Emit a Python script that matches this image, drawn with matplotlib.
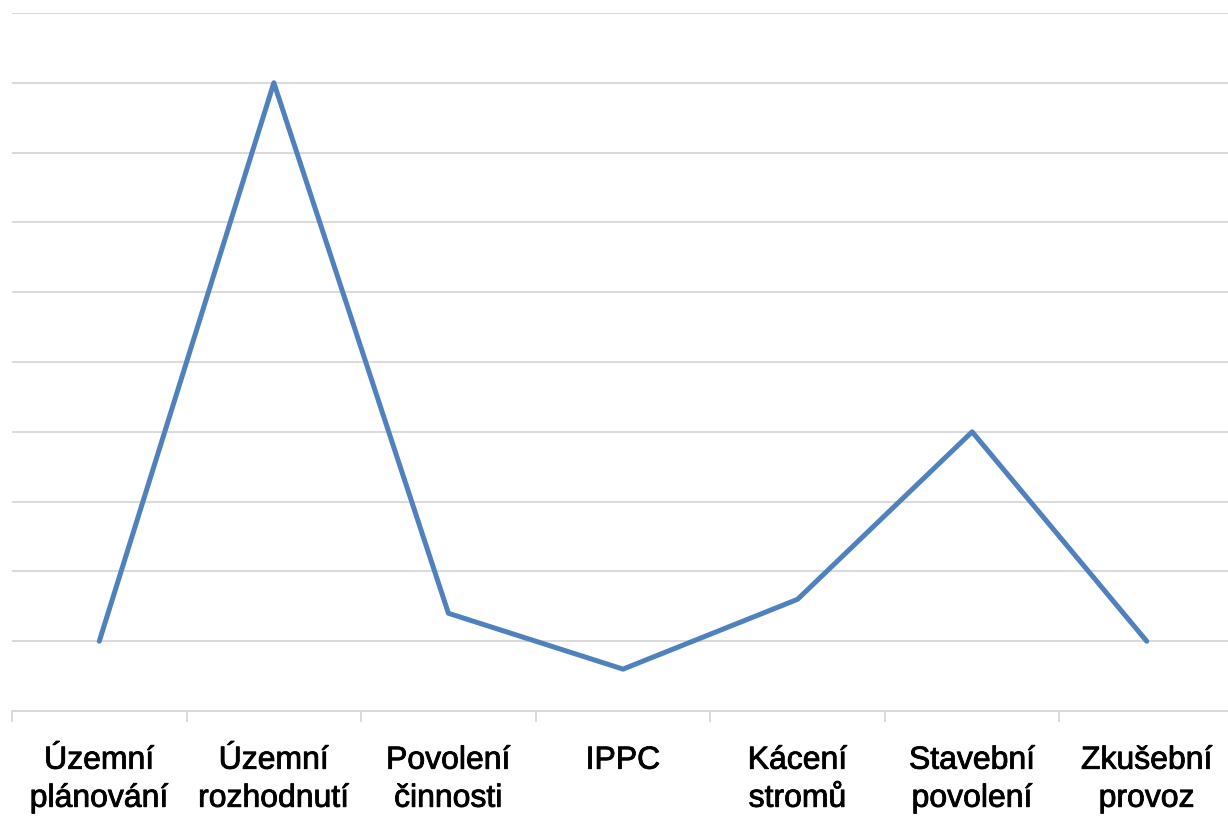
import numpy as np
import matplotlib.pyplot as plt
import matplotlib.patheffects as pe

categories = ["Územní\nplánování", "Územní\nrozhodnutí", "Povolení\nčinnosti", "IPPC",
              "Kácení\nstromů", "Stavební\npovolení", "Zkušební\nprovoz"]
values = [1, 9, 1.4, 0.6, 1.6, 4, 1]

plt.rcParams['font.family'] = ['Liberation Sans', 'DejaVu Sans']

fig = plt.figure(figsize=(12.28, 8.21), dpi=100)
ax = fig.add_axes([12 / 1228, 1 - 711 / 821, 1222 / 1228, (711 - 13) / 821])

x = np.arange(len(categories))
ax.plot(x, values, color='#4F81BD', linewidth=3.6, solid_capstyle='round', zorder=3)

ax.set_xlim(-0.5, len(categories) - 0.5)
ax.set_ylim(0, 10)
ax.set_yticks(np.arange(0, 11, 1))
ax.yaxis.grid(True, color='#D9D9D9', linewidth=1.4)
ax.set_axisbelow(True)
ax.tick_params(axis='y', left=False, labelleft=False)

ax.set_xticks(x)
ax.set_xticklabels(categories, fontsize=23, linespacing=1.35)
for lbl in ax.get_xticklabels():
    lbl.set_path_effects([pe.withStroke(linewidth=0.6, foreground='black')])
ax.set_xticks(np.arange(-0.5, len(categories), 1), minor=True)
ax.tick_params(axis='x', which='major', length=0, pad=25)
ax.tick_params(axis='x', which='minor', length=8, width=1.4, color='#D9D9D9')

for s in ['top', 'right', 'left']:
    ax.spines[s].set_visible(False)
ax.spines['bottom'].set_color('#D9D9D9')
ax.spines['bottom'].set_linewidth(1.4)

fig.savefig('out.png', dpi=100)
